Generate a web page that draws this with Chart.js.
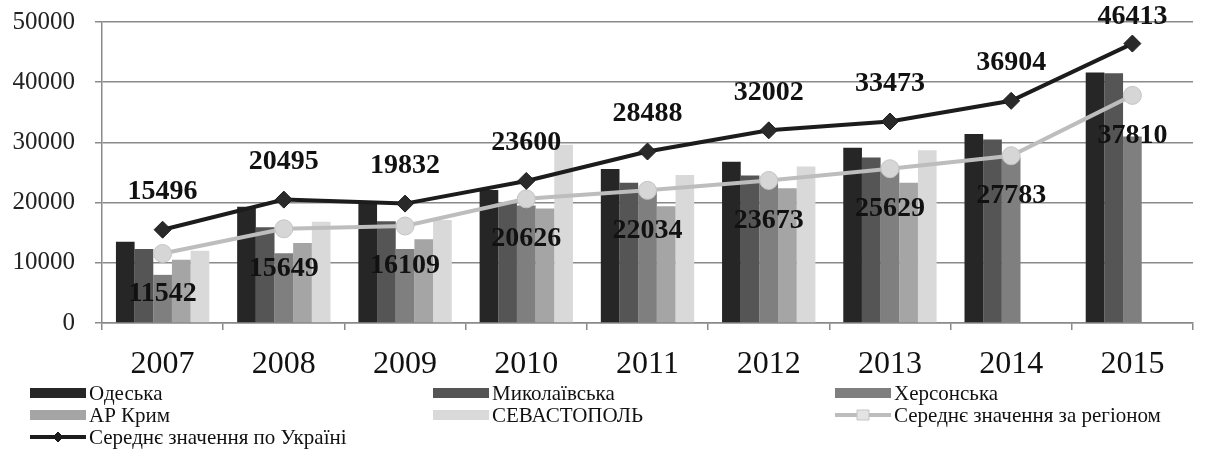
<!DOCTYPE html>
<html>
<head>
<meta charset="utf-8">
<script src="https://cdn.jsdelivr.net/npm/chart.js@4.4.1/dist/chart.umd.min.js"></script>
<style>
    html, body { margin: 0; padding: 0; background: #fff; }
</style>
</head>
<body>
<canvas id="chart" width="1209" height="455"></canvas>
<script>
// Values
const years = ["2007", "2008", "2009", "2010", "2011", "2012", "2013", "2014", "2015"];
const yTicks = [0, 10000, 20000, 30000, 40000, 50000];

const odesa      = [13500, 19300, 19900, 22100, 25600, 26800, 29100, 31400, 41600];
const mykolaiv   = [12300, 15900, 16900, 19900, 23300, 24500, 27500, 30500, 41500];
const kherson    = [8000, 11600, 12300, 19500, 22000, 23500, 25500, 27500, 31000];
const krym       = [10500, 13300, 13900, 19000, 19400, 22400, 23300, null, null];
const sevastopol = [12000, 16800, 17100, 29600, 24600, 26000, 28700, null, null];
const regionAvg  = [11542, 15649, 16109, 20626, 22034, 23673, 25629, 27783, 37810];
const ukraineAvg = [15496, 20495, 19832, 23600, 28488, 32002, 33473, 36904, 46413];

const serif = "'Liberation Serif', 'DejaVu Serif', serif";
const gridColor = "#8a8a8a";

// Draw the numbers over the two average lines
const valueLabels = {
    id: "valueLabels",
    afterDatasetsDraw(chart) {
        const ctx = chart.ctx;
        ctx.save();
        ctx.font = "bold 28px " + serif;
        ctx.fillStyle = "#111";
        ctx.textAlign = "center";
        ctx.textBaseline = "middle";
        [[5, 40], [6, -38]].forEach(([idx, dy]) => {
            const meta = chart.getDatasetMeta(idx);
            meta.data.forEach((pt, j) => {
                const v = chart.data.datasets[idx].data[j];
                ctx.fillText(String(v), pt.x, Math.max(pt.y + dy, 17));
            });
        });
        ctx.restore();
    }
};

// Legend in three fixed columns, like the source figure
const legendSlots = [
    { ds: 0, x: 30, y: 393 }, { ds: 1, x: 433, y: 393 }, { ds: 2, x: 835, y: 393 },
    { ds: 3, x: 30, y: 415 }, { ds: 4, x: 433, y: 415 }, { ds: 5, x: 835, y: 415 },
    { ds: 6, x: 30, y: 437 }
];
const gridLegend = {
    id: "gridLegend",
    afterDraw(chart) {
        const ctx = chart.ctx;
        ctx.save();
        ctx.font = "21px " + serif;
        ctx.textBaseline = "middle";
        ctx.textAlign = "left";
        legendSlots.forEach(slot => {
            const ds = chart.data.datasets[slot.ds];
            const w = 56;
            if (ds.type === "bar") {
                ctx.fillStyle = ds.backgroundColor;
                ctx.fillRect(slot.x, slot.y - 5, w, 10);
            } else {
                ctx.strokeStyle = ds.borderColor;
                ctx.lineWidth = 4;
                ctx.beginPath();
                ctx.moveTo(slot.x, slot.y);
                ctx.lineTo(slot.x + w, slot.y);
                ctx.stroke();
                const cx = slot.x + w / 2;
                ctx.fillStyle = ds.pointStyle === "rectRot" ? "#1c1c1c" : "#e4e4e4";
                ctx.strokeStyle = ds.pointBorderColor;
                ctx.lineWidth = 1;
                ctx.beginPath();
                if (ds.pointStyle === "rectRot") {
                    ctx.moveTo(cx, slot.y - 5);
                    ctx.lineTo(cx + 5, slot.y);
                    ctx.lineTo(cx, slot.y + 5);
                    ctx.lineTo(cx - 5, slot.y);
                    ctx.closePath();
                } else {
                    ctx.rect(cx - 6, slot.y - 5, 12, 10);
                }
                ctx.fill();
                ctx.stroke();
            }
            ctx.fillStyle = "#111";
            ctx.fillText(ds.label, slot.x + w + 3, slot.y + 1);
        });
        ctx.restore();
    }
};

const barSet = (label, data, color) => ({
    type: "bar",
    label: label,
    data: data,
    backgroundColor: color,
    borderWidth: 0,
    categoryPercentage: 0.77,
    barPercentage: 1.0,
    order: 0
});

new Chart(document.getElementById("chart"), {
    data: {
        labels: years,
        datasets: [
            barSet("Одеська", odesa, "#262626"),
            barSet("Миколаївська", mykolaiv, "#555555"),
            barSet("Херсонська", kherson, "#7f7f7f"),
            barSet("АР Крим", krym, "#a5a5a5"),
            barSet("СЕВАСТОПОЛЬ", sevastopol, "#d9d9d9"),
            {
                type: "line",
                label: "Середнє значення за регіоном",
                data: regionAvg,
                borderColor: "#bdbdbd",
                borderWidth: 4,
                pointStyle: "circle",
                pointRadius: 9,
                pointBackgroundColor: "#d6d6d6",
                pointBorderColor: "#c4c4c4",
                pointBorderWidth: 1,
                tension: 0,
                order: -1
            },
            {
                type: "line",
                label: "Середнє значення по Україні",
                data: ukraineAvg,
                borderColor: "#1c1c1c",
                borderWidth: 4,
                pointStyle: "rectRot",
                pointRadius: 8.5,
                pointBackgroundColor: "#2a2a2a",
                pointBorderColor: "#1c1c1c",
                pointBorderWidth: 1,
                tension: 0,
                order: -2
            }
        ]
    },
    options: {
        responsive: false,
        animation: false,
        devicePixelRatio: 1,
        layout: { padding: { left: 0, right: 16, top: 22, bottom: 77 } },
        plugins: {
            legend: { display: false },
            tooltip: { enabled: false }
        },
        scales: {
            x: {
                offset: true,
                grid: {
                    offset: true,
                    drawOnChartArea: false,
                    drawTicks: true,
                    tickLength: 7,
                    color: gridColor,
                    lineWidth: 1.5
                },
                border: { display: true, color: gridColor, width: 1.5 },
                ticks: {
                    padding: 15,
                    color: "#111",
                    font: { family: serif, size: 32 }
                },
                afterFit(scale) { scale.height = 55; }
            },
            y: {
                min: 0,
                max: 50000,
                afterBuildTicks(scale) { scale.ticks = yTicks.map(v => ({ value: v })); },
                grid: {
                    color: gridColor,
                    lineWidth: 1.5,
                    tickLength: 7
                },
                border: { display: true, color: gridColor, width: 1.5 },
                ticks: {
                    padding: 20,
                    color: "#222",
                    font: { family: serif, size: 25 },
                    callback: value => String(value)
                },
                afterFit(scale) {
                    scale.width = 102;
                    scale.paddingTop = 0;
                    scale.paddingBottom = 0;
                }
            }
        }
    },
    plugins: [valueLabels, gridLegend]
});
</script>
</body>
</html>
